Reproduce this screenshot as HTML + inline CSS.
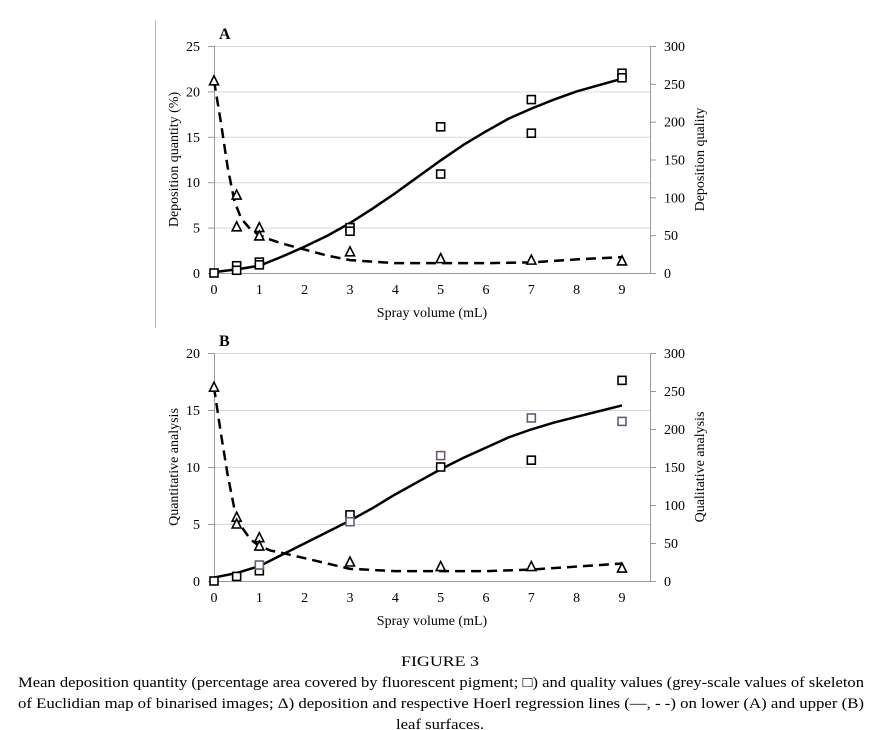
<!DOCTYPE html>
<html><head><meta charset="utf-8"><style>
html,body{margin:0;padding:0;background:#fff;width:875px;height:730px;overflow:hidden}
svg{display:block;font-family:"Liberation Serif",serif}
</style></head><body>
<svg id="fig" width="875" height="730" viewBox="0 0 875 730" xmlns="http://www.w3.org/2000/svg">
<line x1="155.5" y1="20" x2="155.5" y2="328" stroke="#bbb" stroke-width="1"/>
<g fill="#000" font-size="15" text-anchor="middle">
<text x="440" y="666" textLength="78" lengthAdjust="spacingAndGlyphs">FIGURE 3</text>
<text x="441" y="687" textLength="846" lengthAdjust="spacingAndGlyphs">Mean deposition quantity (percentage area covered by fluorescent pigment; □) and quality values (grey-scale values of skeleton</text>
<text x="441" y="708" textLength="846" lengthAdjust="spacingAndGlyphs">of Euclidian map of binarised images; Δ) deposition and respective Hoerl regression lines (—, - -) on lower (A) and upper (B)</text>
<text x="440" y="729" textLength="88" lengthAdjust="spacingAndGlyphs">leaf surfaces.</text>
</g>
</svg>
<script>
// Panel A data
const aSqX=[0,0.5,0.5,1,1,3,3,5,5,7,7,9,9];
const aSqY=[0,0.8,0.3,1.2,0.9,5.0,4.6,16.1,10.9,19.1,15.4,22.0,21.5];
const aTriX=[0,0.5,0.5,1,1,3,5,7,9];
const aTriY=[254,103,61,60,49,28,19,17,16];
const aFitX=[0,0.5,1,1.5,2,2.5,3,3.5,4,4.5,5,5.5,6,6.5,7,7.5,8,8.5,9];
const aSolid=[0.1,0.4,0.8,1.8,2.9,4.1,5.5,7.1,8.8,10.6,12.4,14.1,15.6,17.0,18.1,19.1,20.0,20.7,21.4];
const aDashX=[0,0.15,0.3,0.45,0.6,0.8,1,1.25,1.5,2,2.5,3,4,5,6,7,8,9];
const aDash=[254,200,140,95,72,58,50,44,39,31,23,17,13,13,13,14,18,21];
// Panel B data
const bSqX=[0,0.5,1,3,5,7,9];
const bSqY=[0,0.4,0.9,5.8,10,10.6,17.6];
const bPSqX=[1,3,5,7,9];
const bPSqY=[1.4,5.2,11,14.3,14];
const bTriX=[0,0.5,0.5,1,1,3,5,7,9];
const bTriY=[255,84,75,57,46,25,19,19,17];
const bSolid=[0.3,0.7,1.3,2.3,3.3,4.3,5.3,6.4,7.6,8.7,9.8,10.8,11.7,12.6,13.3,13.9,14.4,14.9,15.4];
const bDash=[255,195,140,95,72,55,46,40,37,30,23,16,13,13,13,15,19,23];
const xTicks=[0,1,2,3,4,5,6,7,8,9];
const aLeftTicks=[0,5,10,15,20,25];
const aRightTicks=[0,50,100,150,200,250,300];
const bLeftTicks=[0,5,10,15,20];
const bRightTicks=[0,50,100,150,200,250,300];

const NS="http://www.w3.org/2000/svg";
const svg=document.getElementById('fig');
function el(tag,attrs,parent,text){const e=document.createElementNS(NS,tag);for(const k in attrs)e.setAttribute(k,attrs[k]);if(text!==undefined)e.textContent=text;(parent||svg).appendChild(e);return e;}

function panel(cfg){
  const g=el('g',{});
  
  
  const x0=214,x9=622,xR=650;
  const X=v=>x0+(x9-x0)*v/9;
  const YL=v=>cfg.yb-(cfg.yb-cfg.yt)*v/cfg.lmax;
  const YR=v=>cfg.yb-(cfg.yb-cfg.yt)*v/300;
  cfg.lt.forEach(t=>{ if(t>0){const l=el('line',{x1:x0,x2:xR,y1:YL(t)+.5,y2:YL(t)+.5,stroke:'#d9d9d9','stroke-width':1},g);
    }});
  const la=el('line',{x1:x0+.5,x2:x0+.5,y1:cfg.yt,y2:cfg.yb,stroke:'#999','stroke-width':1},g);
  
  const ra=el('line',{x1:xR+.5,x2:xR+.5,y1:cfg.yt,y2:cfg.yb,stroke:'#999','stroke-width':1},g);
  
  const xa=el('line',{x1:x0-6,x2:xR+6,y1:cfg.yb+.5,y2:cfg.yb+.5,stroke:'#999','stroke-width':1},g);
  
  cfg.lt.forEach(t=>{el('line',{x1:x0-6,x2:x0,y1:YL(t)+.5,y2:YL(t)+.5,stroke:'#999'},g);
    const tx=el('text',{x:x0-14,y:YL(t)+5,'font-size':14,'text-anchor':'end'},g,String(t));
    });
  cfg.rt.forEach(t=>{el('line',{x1:xR,x2:xR+6,y1:YR(t)+.5,y2:YR(t)+.5,stroke:'#999'},g);
    const tx=el('text',{x:xR+14,y:YR(t)+5,'font-size':14},g,String(t));
    });
  xTicks.forEach(t=>{const tx=el('text',{x:X(t),y:cfg.yb+21,'font-size':14,'text-anchor':'middle'},g,String(t));
    });
  const xt=el('text',{x:432,y:cfg.yb+44,'font-size':14,'text-anchor':'middle'},g,'Spray  volume (mL)');
  
  const cy=(cfg.yt+cfg.yb)/2;
  const lt=el('text',{x:0,y:0,'font-size':14,'text-anchor':'middle',transform:`translate(178,${cy}) rotate(-90)`},g,cfg.ltitle);
  
  const rtt=el('text',{x:0,y:0,'font-size':14,'text-anchor':'middle',transform:`translate(704,${cy}) rotate(-90)`},g,cfg.rtitle);
  
  const pl=el('text',{x:219,y:cfg.yt-7,'font-size':16,'font-weight':'bold'},g,cfg.label);
  
  const sp=el('path',{d:aFitX.map((v,i)=>(i?'L':'M')+X(v)+' '+YL(cfg.solid[i])).join(''),fill:'none',stroke:'#000','stroke-width':2.5},g);
  
  const dp=el('path',{d:aDashX.map((v,i)=>(i?'L':'M')+X(v)+' '+YR(cfg.dash[i])).join(''),fill:'none',stroke:'#000','stroke-width':2.5,'stroke-dasharray':'10,6'},g);
  
  function sq(xs,ys,col,name){xs.forEach((v,i)=>{const r=el('rect',{x:X(v)-4,y:YL(ys[i])-4,width:8,height:8,fill:'#fff',stroke:col,'stroke-width':1.6},g);
    });}
  sq(cfg.sx,cfg.sy,'#000','quantity-point');
  if(cfg.psx) sq(cfg.psx,cfg.psy,'#6b5a7a','quantity-point-alt');
  cfg.tx.forEach((v,i)=>{const cx=X(v),c=YR(cfg.ty[i]);
    const p=el('polygon',{points:`${cx},${c-5} ${cx+4.5},${c+4} ${cx-4.5},${c+4}`,fill:'#fff',stroke:'#000','stroke-width':1.6},g);
    });
}
panel({name:'panel-a',label:'A',yt:46,yb:273,lmax:25,lt:aLeftTicks,rt:aRightTicks,ltitle:'Deposition quantity (%)',rtitle:'Deposition quality',
  solid:aSolid,dash:aDash,sx:aSqX,sy:aSqY,tx:aTriX,ty:aTriY});
panel({name:'panel-b',label:'B',yt:353,yb:581,lmax:20,lt:bLeftTicks,rt:bRightTicks,ltitle:'Quantitative analysis',rtitle:'Qualitative analysis',
  solid:bSolid,dash:bDash,sx:bSqX,sy:bSqY,psx:bPSqX,psy:bPSqY,tx:bTriX,ty:bTriY});
</script>
</body></html>
